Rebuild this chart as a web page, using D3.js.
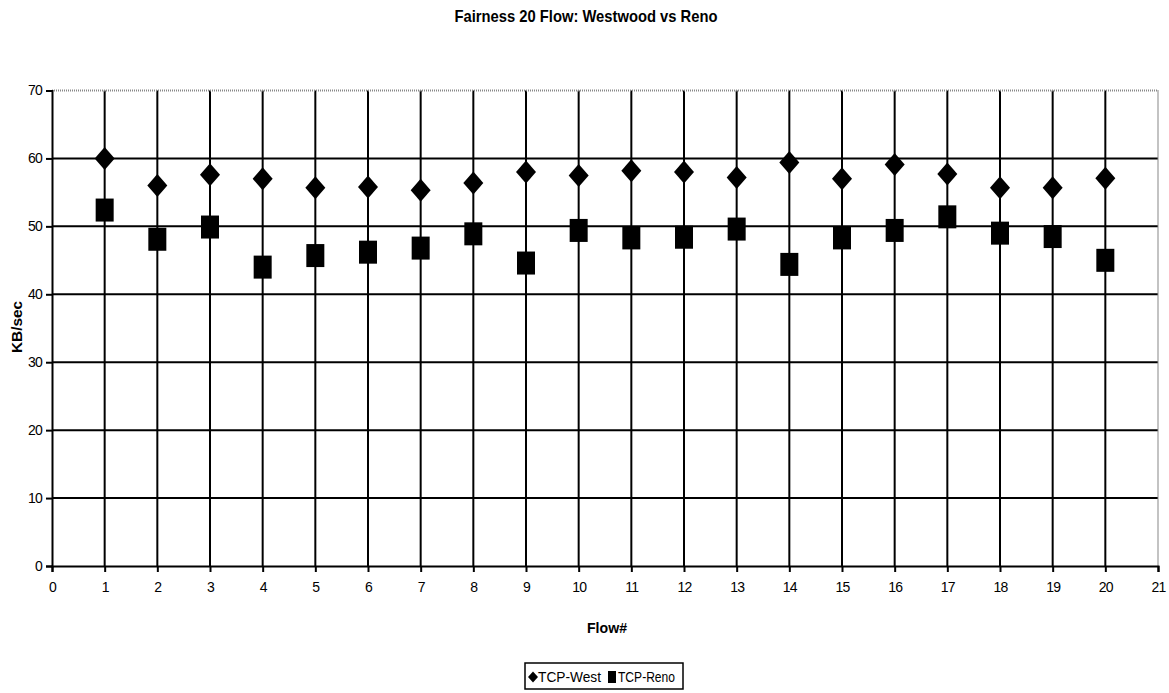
<!DOCTYPE html>
<html><head><meta charset="utf-8">
<script src="https://cdn.jsdelivr.net/npm/d3@7"></script>
<style>body{margin:0;background:#fff;} text{font-family:"Liberation Sans",Arial,sans-serif;}</style>
</head><body>
<svg id="c" width="1169" height="693"></svg>
<script>
const flows = [1,2,3,4,5,6,7,8,9,10,11,12,13,14,15,16,17,18,19,20];
const tcpWest = [60.0,56.0,57.6,57.0,55.7,55.8,55.3,56.4,58.0,57.5,58.2,58.0,57.2,59.4,57.0,59.1,57.7,55.7,55.7,57.1];
const tcpReno = [52.4,48.1,49.9,44.0,45.7,46.2,46.8,48.9,44.6,49.4,48.3,48.4,49.6,44.4,48.3,49.4,51.4,49.0,48.5,45.0];
const xTicks = d3.range(0,22);
const yTicks = [0,10,20,30,40,50,60,70];
const seriesNames = ["TCP-West","TCP-Reno"];
const titleText = "Fairness 20 Flow: Westwood vs Reno";

const svg = d3.select("#c");
const L=52, R=1158, T=90.5, B=566;
const x = d3.scaleLinear().domain([0,21]).range([L,R]);
const y = d3.scaleLinear().domain([0,70]).range([B,T]);

// gridlines
svg.append("g").selectAll("line").data(xTicks.filter(d=>d>0&&d<21)).join("line")
  .attr("x1",d=>x(d)).attr("x2",d=>x(d)).attr("y1",T).attr("y2",B)
  .attr("stroke","#000").attr("stroke-width",2);
svg.append("g").selectAll("line").data(yTicks.filter(d=>d>0&&d<70)).join("line")
  .attr("x1",L).attr("x2",R).attr("y1",d=>y(d)).attr("y2",d=>y(d))
  .attr("stroke","#000").attr("stroke-width",2);
// border top/right dotted gray
svg.append("path").attr("d",`M${L},${T}H${R}V${B}`).attr("fill","none")
  .attr("stroke","#888").attr("stroke-width",2).attr("stroke-dasharray","1,1");

// axes
const yAxis = d3.axisLeft(y).tickValues(yTicks).tickSize(6).tickPadding(2).tickFormat(d3.format("d"));
const gy = svg.append("g").attr("transform",`translate(${L},0)`).call(yAxis);
const xAxis = d3.axisBottom(x).tickValues(xTicks).tickSize(6).tickPadding(10).tickFormat(d3.format("d"));
const gx = svg.append("g").attr("transform",`translate(0,${B})`).call(xAxis);
[gx,gy].forEach(g=>{
  g.select(".domain").attr("stroke","#000").attr("stroke-width",2);
  g.selectAll(".tick line").attr("stroke","#000").attr("stroke-width",2);
  g.selectAll(".tick text").attr("font-size",14).attr("fill","#000")
    .attr("font-family","'Liberation Sans',Arial,sans-serif").attr("letter-spacing","-0.8");
});
gy.select(".tick:last-of-type line").remove();
gy.selectAll(".tick text").attr("dx",-2);

// markers
const diamond = (cx,cy,w,h)=>`M${cx},${cy-h/2}L${cx+w/2},${cy}L${cx},${cy+h/2}L${cx-w/2},${cy}Z`;
svg.append("g").selectAll("rect").data(flows).join("rect")
  .attr("x",(d)=>x(d)-9).attr("y",(d,i)=>y(tcpReno[i])-11.5)
  .attr("width",18).attr("height",23).attr("fill","#000");
svg.append("g").selectAll("path").data(flows).join("path")
  .attr("d",(d,i)=>diamond(x(d),y(tcpWest[i]),20,23)).attr("fill","#000");

// title
svg.append("text").attr("x",586).attr("y",22).attr("text-anchor","middle")
  .attr("font-weight","bold").attr("font-size",17).attr("textLength",263)
  .attr("lengthAdjust","spacingAndGlyphs").text(titleText);
// axis titles
svg.append("text").attr("transform","translate(22,327) rotate(-90)").attr("text-anchor","middle")
  .attr("font-weight","bold").attr("font-size",15).attr("textLength",52)
  .attr("lengthAdjust","spacingAndGlyphs").text("KB/sec");
svg.append("text").attr("x",607).attr("y",633).attr("text-anchor","middle")
  .attr("font-weight","bold").attr("font-size",15).attr("textLength",40)
  .attr("lengthAdjust","spacingAndGlyphs").text("Flow#");

// legend
const lg = svg.append("g");
lg.append("rect").attr("x",525).attr("y",663).attr("width",158).attr("height",26)
  .attr("fill","#fff").attr("stroke","#000").attr("stroke-width",1.5);
lg.append("path").attr("d",diamond(533,677,10,11)).attr("fill","#000");
lg.append("text").attr("x",538).attr("y",682).attr("font-size",14).attr("textLength",63)
  .attr("lengthAdjust","spacingAndGlyphs").text(seriesNames[0]);
lg.append("rect").attr("x",608).attr("y",671).attr("width",8).attr("height",12).attr("fill","#000");
lg.append("text").attr("x",618).attr("y",682).attr("font-size",14).attr("textLength",57)
  .attr("lengthAdjust","spacingAndGlyphs").text(seriesNames[1]);
</script>
</body></html>
